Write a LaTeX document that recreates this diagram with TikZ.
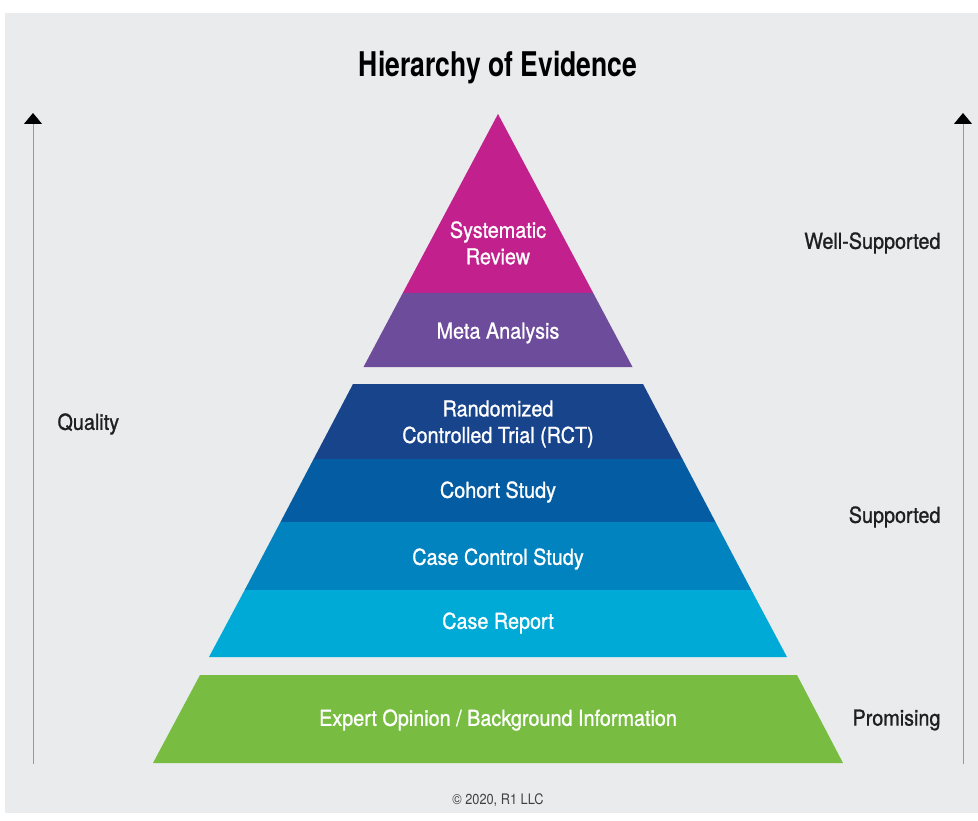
\documentclass[tikz,border=0pt]{standalone}
\usepackage{fontspec}
\setmainfont{TeX Gyre Heros}[FakeStretch=0.88]
\newfontfamily\medfont{TeX Gyre Heros}[FakeStretch=0.9,FakeBold=1.0]
\newfontfamily\titlefont{TeX Gyre Heros Bold}[FakeStretch=0.78]
\usepackage{xcolor}
\usetikzlibrary{arrows.meta}

\definecolor{bggray}{HTML}{EAEBEC}
\definecolor{sysreview}{HTML}{C2218D}
\definecolor{metaanalysis}{HTML}{6D4C9C}
\definecolor{rct}{HTML}{17448B}
\definecolor{cohort}{HTML}{045DA2}
\definecolor{casecontrol}{HTML}{0083BE}
\definecolor{casereport}{HTML}{00AAD6}
\definecolor{expert}{HTML}{78BD42}

\tikzset{
	layer/.style={text=white, align=center, font=\medfont\fontsize{22}{26.5}\selectfont},
	side/.style={text=black!88, font=\medfont\fontsize{22}{26.5}\selectfont},
	axis/.style={draw=black!40, line width=1pt, -{Triangle[width=18pt,length=11pt,color=black]}}
}

\begin{document}
\begin{tikzpicture}[x=1pt,y=-1pt]
		\useasboundingbox (0,0) rectangle (978,821);
		\fill [white] (0,0) rectangle (978,821);
		\fill [bggray] (5,13) rectangle (978,813);
		
		\node [anchor=base, font=\titlefont\fontsize{34}{38}\selectfont] (title) at (498,76.7) {Hierarchy of Evidence};
		
		\coordinate (qbot) at (33,764);
		\coordinate (qtop) at (33,113);
		\coordinate (sbot) at (963,764);
		\coordinate (stop) at (963,113);
		\draw [axis] (qbot) -- (qtop);
		\draw [axis] (sbot) -- (stop);
		
		\fill [sysreview] (498,114) -- (593.2,293) -- (402.8,293) -- cycle;
		\fill [metaanalysis] (402.8,293) -- (593.2,293) -- (632.5,367) -- (363.5,367) -- cycle;
		
		\fill [rct] (353,384) -- (643,384) -- (682.4,459) -- (313.6,459) -- cycle;
		\fill [cohort] (313.6,459) -- (682.4,459) -- (715.5,522) -- (280.5,522) -- cycle;
		\fill [casecontrol] (280.5,522) -- (715.5,522) -- (751.3,590) -- (244.7,590) -- cycle;
		\fill [casereport] (244.7,590) -- (751.3,590) -- (787,657) -- (209,657) -- cycle;
		
		\fill [expert] (200,675) -- (797,675) -- (843,763) -- (153,763) -- cycle;
		
		\node [layer] (sysrev) at (498,243) {Systematic\\Review};
		\node [layer] (meta) at (498,333) {Meta Analysis};
		\node [layer] (rcttext) at (498,424) {Randomized\\Controlled Trial (RCT)};
		\node [layer] (cohorttext) at (498,492) {Cohort Study};
		\node [layer] (cctext) at (498,559) {Case Control Study};
		\node [layer] (crtext) at (498,623) {Case Report};
		\node [layer] (experttext) at (498,720) {Expert Opinion / Background Information};
		
		\node [side, anchor=west] (quality) at (54,424) {Quality};
		\node [side, anchor=east] (wellsup) at (944,243) {Well-Supported};
		\node [side, anchor=east] (supported) at (944,517) {Supported};
		\node [side, anchor=east] (promising) at (944,720) {Promising};
		
		\node [text=black!75, font=\fontsize{14.5}{17}\selectfont] (copy) at (498,800) {© 2020, R1 LLC};
\end{tikzpicture}
\end{document}
